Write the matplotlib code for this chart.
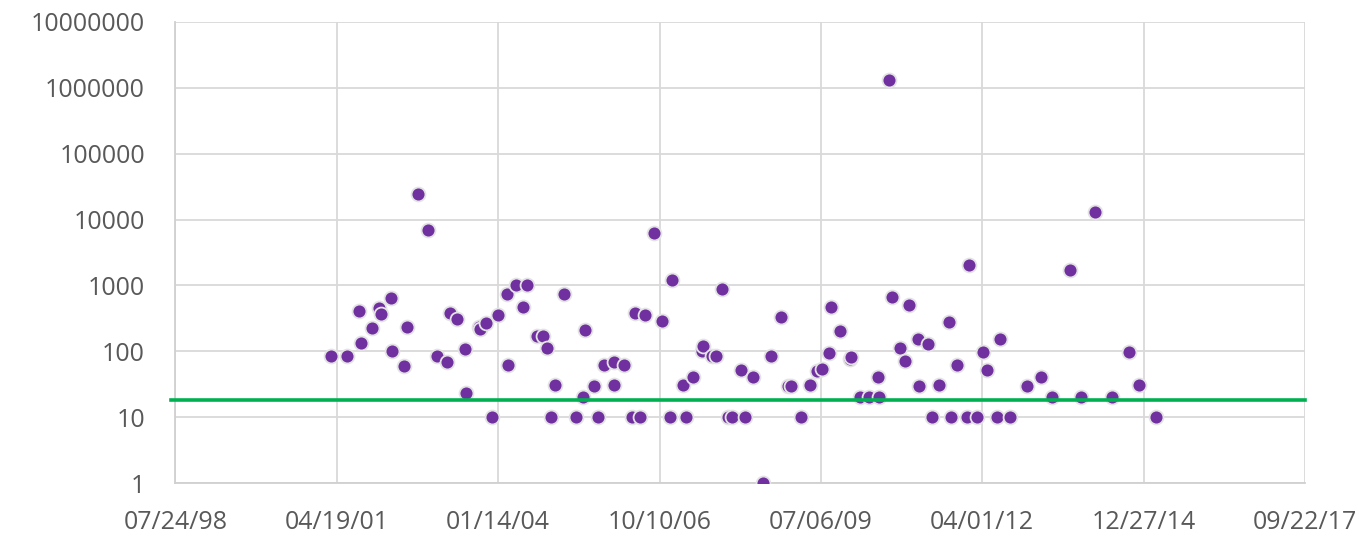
from typing import List

import numpy as np
import matplotlib
matplotlib.use( 'Agg' )
import matplotlib.pyplot as plt
import matplotlib.dates as mdates
from matplotlib.ticker import FixedLocator, NullLocator

# ----- data -----------------------------------------------------------------
sample_dates:List[str] = [
	'2001-03-14', '2001-06-19', '2001-09-03', '2001-09-16', '2001-11-25', '2002-01-07',
	'2002-01-18', '2002-03-19', '2002-03-25', '2002-06-11', '2002-06-28', '2002-09-06',
	'2002-11-03', '2002-12-31', '2003-03-03', '2003-03-23', '2003-05-06', '2003-06-23',
	'2003-06-29', '2003-09-17', '2003-09-24', '2003-11-02', '2003-12-07', '2004-01-13',
	'2004-03-09', '2004-03-15', '2004-05-02', '2004-06-14', '2004-07-11', '2004-09-09',
	'2004-10-16', '2004-11-10', '2004-12-05', '2005-01-02', '2005-02-27', '2005-05-09',
	'2005-06-21', '2005-07-06', '2005-08-30', '2005-09-24', '2005-10-30', '2006-01-01',
	'2006-01-02', '2006-03-04', '2006-04-25', '2006-05-13', '2006-06-12', '2006-07-14',
	'2006-09-08', '2006-10-28', '2006-12-13', '2006-12-29', '2007-03-03', '2007-03-22',
	'2007-05-04', '2007-07-01', '2007-07-09', '2007-08-30', '2007-09-26', '2007-10-29',
	'2007-12-11', '2008-01-01', '2008-02-28', '2008-03-24', '2008-05-10', '2008-07-11',
	'2008-08-30', '2008-11-02', '2008-12-11', '2009-01-03', '2009-03-06', '2009-05-01',
	'2009-06-11', '2009-07-12', '2009-08-28', '2009-09-06', '2009-11-01', '2010-01-04',
	'2010-01-10', '2010-03-07', '2010-04-27', '2010-06-24', '2010-07-02', '2010-09-02',
	'2010-09-19', '2010-11-11', '2010-12-12', '2010-12-31', '2011-02-26', '2011-03-07',
	'2011-04-28', '2011-05-27', '2011-07-07', '2011-09-09', '2011-09-22', '2011-10-29',
	'2011-12-28', '2012-01-07', '2012-03-01', '2012-04-07', '2012-05-02', '2012-07-01',
	'2012-07-20', '2012-09-21', '2013-01-01', '2013-03-31', '2013-06-07', '2013-09-27',
	'2013-12-06', '2014-03-01', '2014-06-11', '2014-09-25', '2014-11-29', '2015-03-11',
]
sample_values:List[float] = [
	86, 86, 415, 134, 224, 451,
	370, 646, 100, 60, 232, 24400,
	6950, 86, 70, 380, 314, 108,
	23, 237, 219, 273, 10, 357,
	740, 63, 1000, 477, 1000, 173,
	173, 111, 10, 31, 740, 10,
	20, 211, 30, 10, 63, 70,
	31, 63, 10, 380, 10, 357,
	6190, 293, 10, 1210, 31, 10,
	41, 100, 122, 86, 86, 894,
	10, 10, 52, 10, 41, 1,
	86, 336, 30, 30, 10, 31,
	50, 54, 94, 467, 202, 77,
	81, 20, 20, 41, 20, 1310000,
	669, 111, 71, 511, 153, 30,
	131, 10, 31, 283, 10, 63,
	10, 2025, 10, 99, 52, 10,
	153, 10, 30, 41, 20, 1740,
	20, 13200, 20, 99, 31, 10,
]
threshold:float = 18  # green limit line

x_start:str = '1998-07-24'
x_step_days:int = 1000
x_steps:int = 7
y_ticks:List[float] = [1, 10, 100, 1000, 10000, 100000, 1000000, 10000000]

# ----- plot ----------------------------------------------------------------
plt.rcParams['font.family'] = ['Open Sans', 'DejaVu Sans']

fig = plt.figure( figsize=(13.59, 5.39), dpi=100 )
ax = fig.add_axes( [0.1291, 0.1035, 0.9603 - 0.1291, 0.9597 - 0.1035] )

xd = mdates.date2num( np.array(sample_dates, dtype='datetime64[D]') )
ax.scatter( xd, sample_values, s=100, color='#7030A0', edgecolors='#E3E3E3',
	linewidths=1.3, zorder=3 )
# limit line pokes a little left of the plot area, as in the source
ax.axhline( y=threshold, xmin=-0.004, color='#00B050', linewidth=2.6, zorder=4, clip_on=False )

ax.set_yscale( 'log' )
ax.set_ylim( y_ticks[0], y_ticks[-1] )
ax.yaxis.set_major_locator( FixedLocator(y_ticks) )
ax.yaxis.set_minor_locator( NullLocator() )
ax.set_yticklabels( [f"{int(v)}" for v in y_ticks] )

tick_days = np.datetime64(x_start) + np.arange(x_steps + 1) * x_step_days
tick_nums = mdates.date2num( tick_days )
ax.set_xlim( tick_nums[0], tick_nums[-1] )
ax.set_xticks( tick_nums )
ax.set_xticklabels( [mdates.num2date(t).strftime('%m/%d/%y') for t in tick_nums] )

ax.grid( True, color='#D9D9D9', linewidth=1.3, zorder=0 )
ax.set_axisbelow( True )
for side in ['top', 'right']:
	ax.spines[side].set_visible( False )
for side in ['left', 'bottom']:
	ax.spines[side].set_color( '#D0D0D0' )
	ax.spines[side].set_linewidth( 1.3 )

ax.tick_params( axis='both', length=0, labelsize=18, labelcolor='#595959' )
ax.tick_params( axis='x', pad=19 )
ax.tick_params( axis='y', pad=22 )

fig.savefig( 'out.png', dpi=100 )
